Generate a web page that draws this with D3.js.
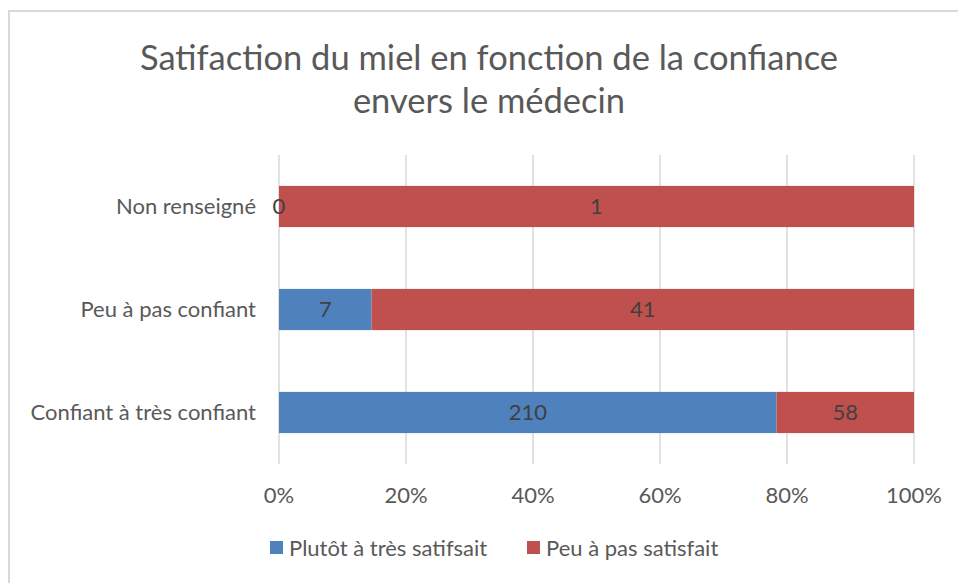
<!DOCTYPE html>
<html>
<head>
<meta charset="utf-8">
<script src="https://cdn.jsdelivr.net/npm/d3@7"></script>
<style>
  body { margin: 0; background: #fff; }
  text { font-family: "Lato", "Open Sans", sans-serif; }
</style>
</head>
<body>
<script>
// chart data
var categories = ["Non renseigné", "Peu à pas confiant", "Confiant à très confiant"];
var seriesNames = ["Plutôt à très satifsait", "Peu à pas satisfait"];
var satisfied = [0, 7, 210];
var unsatisfied = [1, 41, 58];
var ticks = [0, 0.2, 0.4, 0.6, 0.8, 1];
var colors = ["#4F81BD", "#C0504D"];

var w = 958, h = 583;
var plotLeft = 279, plotRight = 914, plotTop = 155, plotBottom = 464;

var svg = d3.select("body").append("svg")
	.attr("width", w)
	.attr("height", h);

// outer frame (right and bottom edges fall outside the picture)
svg.append("rect")
	.attr("x", 9).attr("y", 11)
	.attr("width", w).attr("height", h)
	.attr("fill", "#fff")
	.attr("stroke", "#d9d9d9")
	.attr("stroke-width", 2);

var x = d3.scaleLinear().domain([0, 1]).range([plotLeft, plotRight]);
var y = d3.scaleBand().domain(categories).range([plotTop, plotBottom]).paddingInner(0.6).paddingOuter(0.3);

// gridlines
svg.selectAll("line.grid")
	.data(ticks)
	.enter()
	.append("line")
	.attr("class", "grid")
	.attr("x1", function(d) { return x(d); })
	.attr("x2", function(d) { return x(d); })
	.attr("y1", plotTop)
	.attr("y2", plotBottom)
	.attr("stroke", "#d9d9d9")
	.attr("stroke-width", 1.5);

// stacking to percentages
var rows = categories.map(function(c, i) {
	var total = satisfied[i] + unsatisfied[i];
	return { cat: c, vals: [satisfied[i], unsatisfied[i]], total: total };
});

var segs = [];
rows.forEach(function(r) {
	var acc = 0;
	r.vals.forEach(function(v, j) {
		segs.push({ cat: r.cat, s: j, v: v, x0: acc / r.total, x1: (acc + v) / r.total });
		acc += v;
	});
});

svg.selectAll("rect.bar")
	.data(segs)
	.enter()
	.append("rect")
	.attr("class", "bar")
	.attr("x", function(d) { return x(d.x0); })
	.attr("y", function(d) { return y(d.cat); })
	.attr("width", function(d) { return x(d.x1) - x(d.x0); })
	.attr("height", y.bandwidth())
	.attr("fill", function(d) { return colors[d.s]; });

svg.selectAll("text.lbl")
	.data(segs)
	.enter()
	.append("text")
	.attr("class", "lbl")
	.text(function(d) { return d.v; })
	.attr("x", function(d) { return (x(d.x0) + x(d.x1)) / 2; })
	.attr("y", function(d) { return y(d.cat) + y.bandwidth() / 2; })
	.attr("dy", "0.35em")
	.attr("text-anchor", "middle")
	.attr("font-size", "22px")
	.attr("fill", "#404040");

// category axis labels
svg.selectAll("text.cat")
	.data(categories)
	.enter()
	.append("text")
	.attr("class", "cat")
	.text(function(d) { return d; })
	.attr("x", 256)
	.attr("y", function(d) { return y(d) + y.bandwidth() / 2; })
	.attr("dy", "0.35em")
	.attr("text-anchor", "end")
	.attr("font-size", "22px")
	.attr("fill", "#595959");

// x axis labels
svg.selectAll("text.tick")
	.data(ticks)
	.enter()
	.append("text")
	.attr("class", "tick")
	.text(d3.format(".0%"))
	.attr("x", function(d) { return x(d); })
	.attr("y", 495)
	.attr("dy", "0.35em")
	.attr("text-anchor", "middle")
	.attr("font-size", "22px")
	.attr("fill", "#595959");

// title
var title = ["Satifaction du miel en fonction de la confiance", "envers le médecin"];
svg.selectAll("text.title")
	.data(title)
	.enter()
	.append("text")
	.attr("class", "title")
	.text(function(d) { return d; })
	.attr("x", 489)
	.attr("y", function(d, i) { return 58 + i * 43; })
	.attr("dy", "0.35em")
	.attr("text-anchor", "middle")
	.attr("font-size", "34.5px")
	.attr("fill", "#595959");

// legend
var legX = [270, 527];
var leg = svg.selectAll("g.leg")
	.data(seriesNames)
	.enter()
	.append("g")
	.attr("class", "leg")
	.attr("transform", function(d, i) { return "translate(" + legX[i] + ",548)"; });

leg.append("rect")
	.attr("x", 0).attr("y", -7)
	.attr("width", 13).attr("height", 13)
	.attr("fill", function(d, i) { return colors[i]; });

leg.append("text")
	.text(function(d) { return d; })
	.attr("x", 19)
	.attr("dy", "0.35em")
	.attr("font-size", "22px")
	.attr("fill", "#595959");
</script>
</body>
</html>
